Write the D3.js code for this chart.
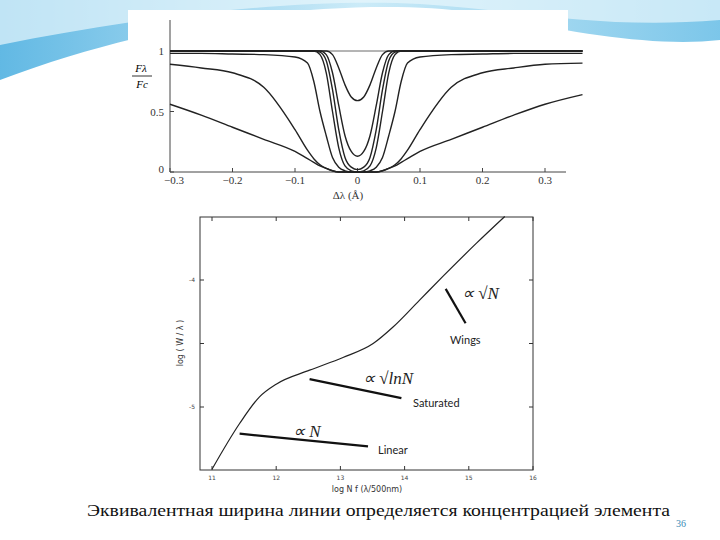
<!DOCTYPE html><html><head><meta charset="utf-8"><script src="https://cdn.jsdelivr.net/npm/d3@7"></script>
<style>body{margin:0;background:#fff}</style></head><body><svg id="s" width="720" height="540"></svg><script>
// ---- Top chart data: half profiles (symmetric about 0) ----
const absX=[0,0.01,0.02,0.03,0.04,0.05,0.06,0.07,0.08,0.1,0.15,0.2,0.25,0.3,0.36];
const prof1=[0.59,0.62,0.72,0.86,0.97,1,1,1,1,1,1,1,1,1,1];
const prof2=[0.13,0.17,0.30,0.55,0.82,0.97,1,1,1,1,1,1,1,1,1];
const prof3=[0.02,0.04,0.12,0.35,0.68,0.92,0.99,1,1,1,1,1,1,1,1];
const prof4=[0,0.01,0.05,0.2,0.5,0.82,0.97,1,1,1,1,1,1,1,1];
const prof5=[0,0,0.01,0.04,0.12,0.3,0.5,0.75,0.9,0.95,0.97,0.975,0.98,0.98,0.98];
const prof6=[0,0,0,0,0.01,0.03,0.06,0.11,0.18,0.35,0.7,0.82,0.86,0.89,0.9];
const prof7=[0,0,0,0,0.01,0.03,0.05,0.08,0.11,0.17,0.27,0.37,0.47,0.56,0.64];
const topXTicks=[-0.3,-0.2,-0.1,0,0.1,0.2,0.3];
const topYTicks=[0,0.5,1];
// ---- Bottom chart data: curve of growth ----
const cogX=[11,11.43,11.74,12.0,12.52,13.04,13.51,13.82,14.23,14.6,15.12,15.56];
const cogY=[-5.49,-5.13,-4.92,-4.82,-4.71,-4.61,-4.5,-4.37,-4.16,-3.97,-3.71,-3.5];
const botXTicks=[11,12,13,14,15,16];
const botYTicks=[-4,-5];
const annLines=[[[11.43,-5.21],[13.43,-5.31]],[[12.52,-4.78],[13.95,-4.93]],[[14.64,-4.07],[14.95,-4.34]]];

const svg=d3.select("#s");
const defs=svg.append("defs");
const g1=defs.append("linearGradient").attr("id","gb").attr("x1",0).attr("x2",1);
g1.append("stop").attr("offset",0).attr("stop-color","#3aa7dd");
g1.append("stop").attr("offset",0.5).attr("stop-color","#bfe6f6");
g1.append("stop").attr("offset",1).attr("stop-color","#5bb8e4");
svg.append("path").attr("d","M0,0H720V40C650,48 560,30 470,12C380,0 200,5 0,80Z").attr("fill","url(#gb)").attr("opacity",0.8);
svg.append("path").attr("d","M0,0H720V20C600,30 520,10 420,4C300,-2 150,15 0,45Z").attr("fill","#e8f6fc").attr("opacity",0.7);
svg.append("rect").attr("x",128).attr("y",10).attr("width",440).attr("height",196).attr("fill","#fff");

// top chart
const tx=d3.scaleLinear().domain([-0.3,0.3]).range([170,545]);
const ty=d3.scaleLinear().domain([0,1]).range([172,51]);
const tg=svg.append("g");
tg.append("line").attr("x1",170).attr("x2",170).attr("y1",20).attr("y2",172).attr("stroke","#444");
tg.append("line").attr("x1",170).attr("x2",566).attr("y1",172).attr("y2",172).attr("stroke","#444");
topXTicks.forEach(v=>{tg.append("line").attr("x1",tx(v)).attr("x2",tx(v)).attr("y1",172).attr("y2",168).attr("stroke","#444");
 tg.append("text").attr("x",tx(v)+(v===-0.3?4:0)).attr("y",184).attr("text-anchor","middle").attr("font-family","Liberation Serif").attr("font-size",11).attr("fill","#333").text(v===0?"0":d3.format(".1f")(v).replace("-","\u2212"));});
topYTicks.forEach(v=>{tg.append("line").attr("x1",170).attr("x2",174).attr("y1",ty(v)).attr("y2",ty(v)).attr("stroke","#444");
 tg.append("text").attr("x",164).attr("y",ty(v)+(v===0?1:4)).attr("text-anchor","end").attr("font-family","Liberation Serif").attr("font-size",11).attr("fill","#333").text(v===0.5?"0.5":v);});
tg.append("text").attr("x",348).attr("y",199).attr("text-anchor","middle").attr("font-family","Liberation Serif").attr("font-size",11).attr("fill","#333").text("Δλ (Å)");
tg.append("text").attr("x",141).attr("y",72).attr("text-anchor","middle").attr("font-family","Liberation Serif").attr("font-style","italic").attr("font-size",11).text("Fλ");
tg.append("line").attr("x1",132).attr("x2",152).attr("y1",76).attr("y2",76).attr("stroke","#333");
tg.append("text").attr("x",142).attr("y",88).attr("text-anchor","middle").attr("font-family","Liberation Serif").attr("font-style","italic").attr("font-size",11).text("Fc");
tg.append("line").attr("x1",170).attr("x2",566).attr("y1",ty(1)).attr("y2",ty(1)).attr("stroke","#444").attr("stroke-width",0.8);
const xMax=0.36,xMin=-0.3;
const tline=d3.line().x(d=>tx(d[0])).y(d=>ty(d[1])).curve(d3.curveMonotoneX);
[prof1,prof2,prof3,prof4,prof5,prof6,prof7].forEach(p=>{
  const pts=[];
  absX.slice().reverse().forEach((a,i)=>{const j=absX.length-1-i; if(-a>=xMin-1e-9) pts.push([-a,p[j]]);});
  absX.forEach((a,i)=>{if(a>0&&a<=xMax) pts.push([a,p[i]]);});
  tg.append("path").attr("d",tline(pts)).attr("fill","none").attr("stroke","#222").attr("stroke-width",1.4);
});

// bottom chart
const bx=d3.scaleLinear().domain([11,16]).range([212,533]);
const by=d3.scaleLinear().domain([-4,-5]).range([280,407]);
const L=200,R=533,T=217,B=470;
const bg=svg.append("g");
bg.append("rect").attr("x",L).attr("y",T).attr("width",R-L).attr("height",B-T).attr("fill","none").attr("stroke","#333");
botXTicks.forEach(v=>{[[B,B-4],[T,T+4]].forEach(([a,b])=>bg.append("line").attr("x1",bx(v)).attr("x2",bx(v)).attr("y1",a).attr("y2",b).attr("stroke","#333"));
 bg.append("text").attr("x",bx(v)).attr("y",B+10).attr("text-anchor","middle").attr("font-family","DejaVu Sans").attr("font-size",6).attr("fill","#444").text(v);});
[-4,-4.5,-5].forEach(v=>{[[L,L+4],[R,R-4]].forEach(([a,b])=>bg.append("line").attr("x1",a).attr("x2",b).attr("y1",by(v)).attr("y2",by(v)).attr("stroke","#333"));});
botYTicks.forEach(v=>bg.append("text").attr("x",L-5).attr("y",by(v)+2).attr("text-anchor","end").attr("font-family","DejaVu Sans").attr("font-size",6).attr("fill","#444").text(v));
bg.append("text").attr("transform","translate(183,343) rotate(-90)").attr("text-anchor","middle").attr("font-family","DejaVu Sans").attr("font-size",8).attr("fill","#333").text("log ( W / λ )");
bg.append("text").attr("x",367).attr("y",492).attr("text-anchor","middle").attr("font-family","DejaVu Sans").attr("font-size",8).attr("fill","#333").text("log N f (λ/500nm)");
const bl=d3.line().x(d=>bx(d[0])).y(d=>by(d[1])).curve(d3.curveMonotoneX);
bg.append("path").attr("d",bl(cogX.map((x,i)=>[x,cogY[i]]))).attr("fill","none").attr("stroke","#222").attr("stroke-width",1.2);
annLines.forEach(l=>bg.append("path").attr("d",d3.line().x(d=>bx(d[0])).y(d=>by(d[1]))(l)).attr("stroke","#111").attr("stroke-width",2.2));
const lab=(x,y,t,f,s,st)=>bg.append("text").attr("x",x).attr("y",y).attr("font-family",f).attr("font-size",s).attr("font-style",st||"normal").attr("fill","#222").text(t);
lab(293,437,"∝ N","Liberation Serif",17,"italic");
lab(378,454,"Linear","Lato",11);
lab(363,384,"∝ √lnN","Liberation Serif",17,"italic");
lab(413,407,"Saturated","Lato",11);
lab(462,299,"∝ √N","Liberation Serif",17,"italic");
lab(450,344,"Wings","Lato",11);

svg.append("text").attr("x",87).attr("y",516).attr("textLength",583).attr("lengthAdjust","spacingAndGlyphs").attr("font-family","Liberation Serif").attr("font-size",17).attr("fill","#111").text("Эквивалентная ширина линии определяется концентрацией элемента");
svg.append("text").attr("x",676).attr("y",527).attr("font-family","Liberation Serif").attr("font-size",10).attr("fill","#3a8bb5").text("36");
</script></body></html>
